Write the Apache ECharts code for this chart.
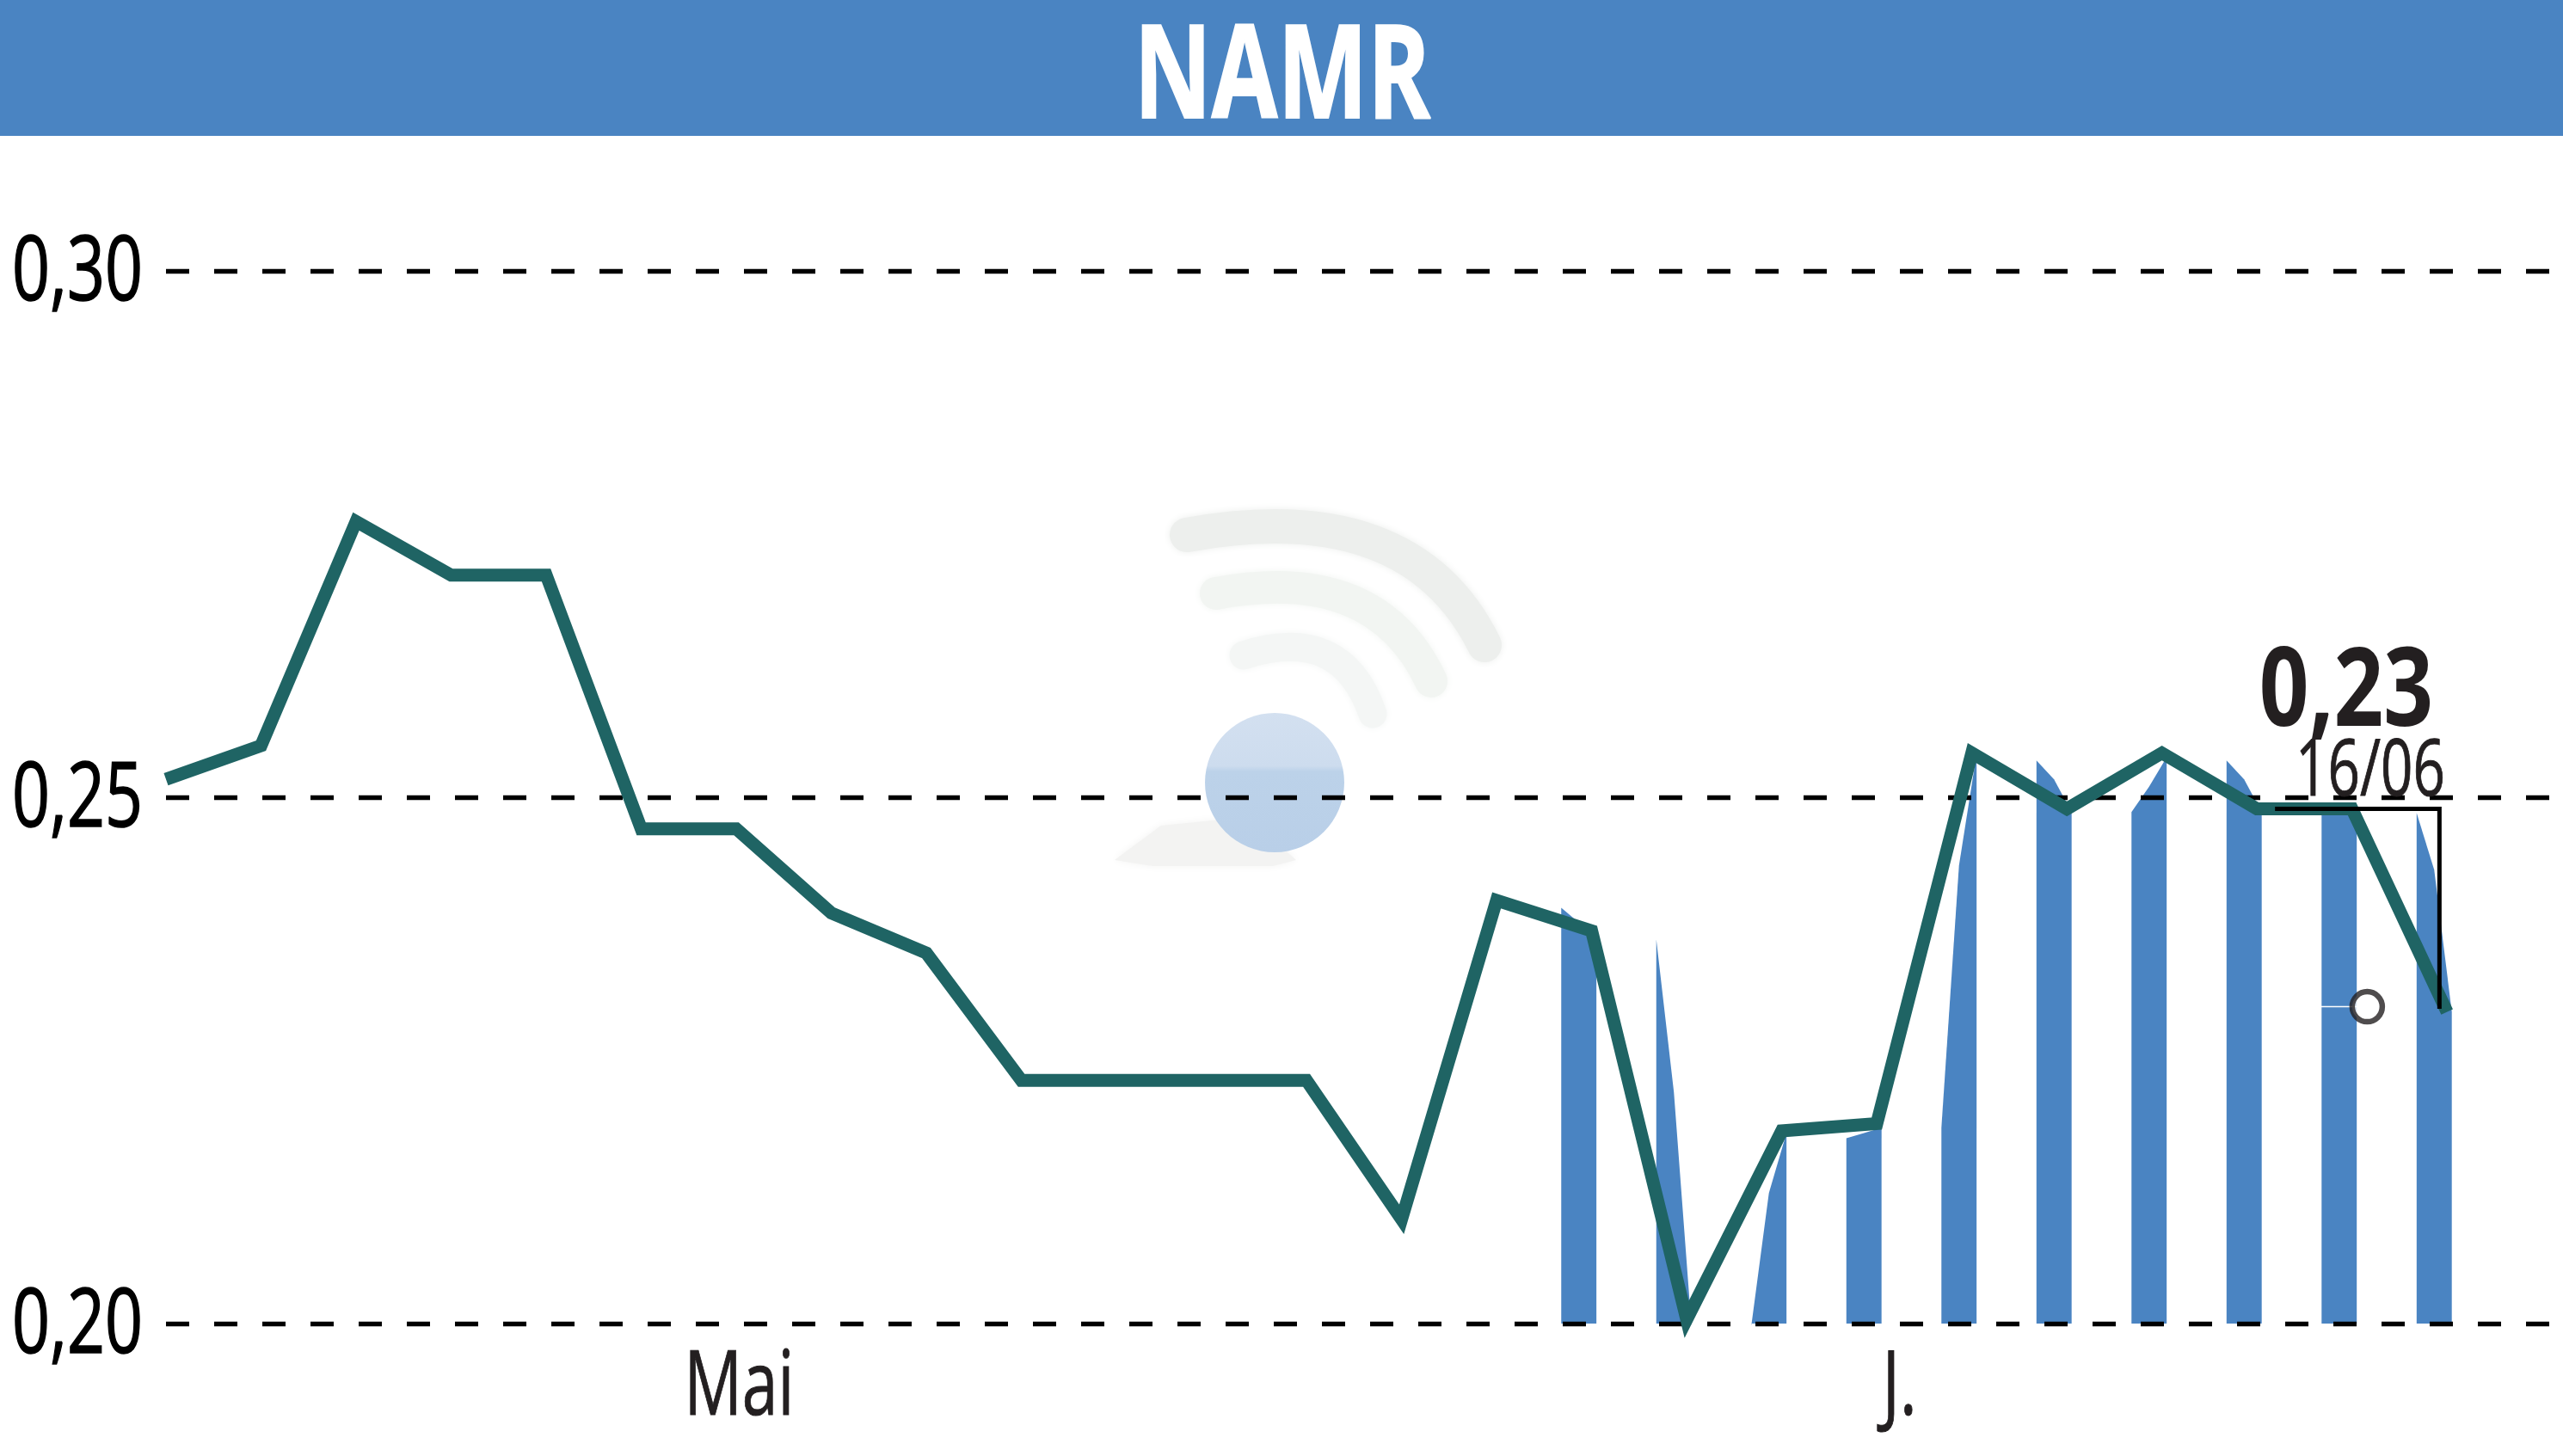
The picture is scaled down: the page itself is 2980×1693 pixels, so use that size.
<!DOCTYPE html>
<html>
<head>
<meta charset="utf-8">
<style>html,body{margin:0;padding:0;background:#fff}#c{width:2980px;height:1693px}</style>
<script src="https://cdn.jsdelivr.net/npm/echarts@6/dist/echarts.min.js"></script>
</head>
<body>
<div id="c"></div>
<script>
var titleText = 'NAMR';
var lastValueText = '0,23';
var lastDateText = '16/06';
var yTickValues = [0.30,0.25,0.20];
var yTickLabels = ['0,30','0,25','0,20'];
var monthIndex = [6.03,18.24];
var monthLabels = ['Mai','J.'];
var prices = [0.2517,0.2549,0.2762,0.2711,0.2711,0.2470,0.2470,0.2390,0.2352,0.2231,0.2231,0.2231,0.2231,0.2099,0.2402,0.2373,0.2004,0.2183,0.2190,0.2542,0.2489,0.2542,0.2489,0.2489,0.2296];
var volumeIndex = [15,16,17,18,19,20,21,22,23,24];
var volumeLeft  = [0.2395,0.2365,0.1998,0.2176,0.2186,0.2535,0.2486,0.2535,0.2489,0.2485];
var volumeMid   = [0.2381,0.2220,0.2124,0.2181,0.2435,0.2517,0.2510,0.2517,0.2489,0.2431];
var volumeRight = [0.2355,0.1998,0.2181,0.2186,0.2541,0.2486,0.2538,0.2486,0.2489,0.2296];
var bracket = [[22.19,0.2489],[23.92,0.2489],[23.92,0.2299]];
var marker = [23.16,0.2301];
var markerTail = [[22.67,0.2301],[23.16,0.2301]];

var BLUE = '#4a84c2', GREEN = '#1f6464', INK = '#231f20';
var FONT = '"Open Sans","Liberation Sans",sans-serif';

function softArc(x1,y1,cx,cy,x2,y2,color,w){
  return {type:'bezierCurve',z:1,shape:{x1:x1,y1:y1,cpx1:cx,cpy1:cy,x2:x2,y2:y2},
    style:{stroke:color,lineWidth:w,fill:null,lineCap:'round',shadowBlur:8,shadowColor:color}};
}

var chart = echarts.init(document.getElementById('c'), null, {renderer:'canvas'});
chart.setOption({
  backgroundColor:'#fff',
  animation:false,
  grid:{left:193,right:0,top:315,bottom:154,outerBoundsMode:'none'},
  xAxis:{
    type:'value',min:0,max:25.22,interval:6,
    axisLine:{show:false},axisTick:{show:false},splitLine:{show:false},axisLabel:{show:false}
  },
  yAxis:{
    type:'value',min:0.2,max:0.3,interval:0.05,z:2.5,
    axisLine:{show:false},axisTick:{show:false},axisLabel:{show:false},
    splitLine:{show:true,lineStyle:{color:'#000',width:5.3,type:[27,29]}}
  },
  graphic:[
    {type:'rect',z:0,shape:{x:0,y:0,width:2980,height:158},style:{fill:BLUE}},
    {type:'text',z:8,x:1491,y:94,scaleX:0.74,style:{text:titleText,fill:'#fff',stroke:'#fff',lineWidth:2,font:'bold 150px '+FONT,textAlign:'center',textVerticalAlign:'middle'}},
    softArc(1380,622,1640,575,1726,750,'#edefed',40),
    softArc(1414,690,1600,655,1664,792,'#f2f5f2',38),
    softArc(1446,762,1560,725,1596,830,'#f4f6f5',33),
    {type:'polygon',z:1,shape:{points:[[1296,1000],[1350,960],[1450,950],[1507,1000],[1480,1007],[1340,1007]]},style:{fill:'#f3f3f2',shadowBlur:10,shadowColor:'#f3f3f2'}},
    {type:'circle',z:1,shape:{cx:1482,cy:910,r:81},style:{fill:{type:'linear',x:0,y:0,x2:0,y2:1,colorStops:[{offset:0,color:'#d3e0f0'},{offset:0.38,color:'#cddcee'},{offset:0.42,color:'#bcd2e9'},{offset:1,color:'#b9cfe8'}]}}},
    {type:'text',z:12,x:2728,y:808,scaleX:0.79,style:{text:lastValueText,fill:INK,font:'bold 128px '+FONT,textAlign:'center',textVerticalAlign:'middle'}},
    {type:'text',z:12,x:2756,y:899,scaleX:0.72,style:{text:lastDateText,fill:INK,stroke:INK,lineWidth:1,font:'91px '+FONT,textAlign:'center',textVerticalAlign:'middle'}}
  ],
  series:[
    {
      type:'custom',z:2,clip:false,silent:true,
      data:volumeIndex.map(function(x,i){return [x,volumeLeft[i],volumeMid[i],volumeRight[i]];}),
      encode:{x:0,y:[1,2,3]},
      renderItem:function(p,api){
        var x=api.value(0),l=api.value(1),m=api.value(2),r=api.value(3);
        var pts=[api.coord([x-0.32,0.2]),api.coord([x-0.32,l]),api.coord([x-0.135,m]),api.coord([x+0.05,r]),api.coord([x+0.05,0.2])];
        return {type:'polygon',shape:{points:pts},style:{fill:BLUE}};
      }
    },
    {
      type:'custom',name:'yTicks',z:7,clip:false,silent:true,
      data:yTickValues.map(function(v,i){return [0,v,i];}),
      encode:{x:0,y:1},
      renderItem:function(p,api){
        var c=api.coord([api.value(0),api.value(1)]);
        return {type:'text',x:c[0]-27,y:c[1]+4,scaleX:0.74,style:{text:yTickLabels[api.value(2)],fill:'#000',stroke:'#000',lineWidth:1.5,font:'104px '+FONT,textAlign:'right',textVerticalAlign:'middle'}};
      }
    },
    {
      type:'custom',name:'monthTicks',z:7,clip:false,silent:true,
      data:monthIndex.map(function(v,i){return [v,0.2,i];}),
      encode:{x:0,y:1},
      renderItem:function(p,api){
        var c=api.coord([api.value(0),api.value(1)]);
        return {type:'text',x:c[0],y:c[1]+76,scaleX:0.72,style:{text:monthLabels[api.value(2)],fill:INK,stroke:INK,lineWidth:1,font:'104px '+FONT,textAlign:'center',textVerticalAlign:'middle'}};
      }
    },
    {
      type:'line',z:3,clip:false,silent:true,symbol:'none',
      data:prices.map(function(v,i){return [i,v];}),
      lineStyle:{color:GREEN,width:15,cap:'butt',join:'miter',miterLimit:4}
    },
    {
      type:'line',z:4,clip:false,silent:true,symbol:'none',data:markerTail,
      lineStyle:{color:'#fff',width:1.5}
    },
    {
      type:'line',z:5,clip:false,silent:true,symbol:'none',data:bracket,
      lineStyle:{color:'#000',width:5,cap:'butt',join:'miter'}
    },
    {
      type:'scatter',z:6,clip:false,silent:true,symbol:'circle',symbolSize:35,data:[marker],
      itemStyle:{color:'#fff',borderColor:INK,borderWidth:6.5}
    }
  ]
});
</script>
</body>
</html>
